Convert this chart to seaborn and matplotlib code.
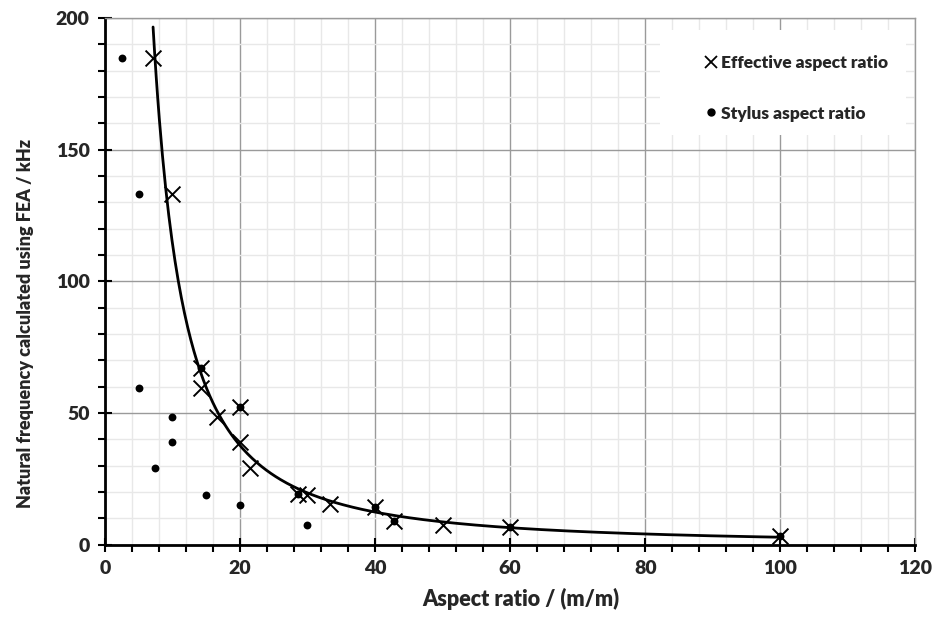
import numpy as np
import pandas as pd
import matplotlib
matplotlib.use("Agg")
import matplotlib.pyplot as plt
from matplotlib.ticker import MultipleLocator
from matplotlib.lines import Line2D
from matplotlib.patches import Rectangle
import seaborn as sns

# Effective aspect ratio vs natural frequency (FEA)
effective_ratio = [7.14, 10.0, 14.29, 14.29, 16.67, 20.0, 20.0, 21.43,
                   28.57, 30.0, 33.33, 40.0, 42.86, 50.0, 60.0, 100.0]
effective_freq = [185.0, 133.3, 67.0, 59.6, 48.7, 52.3, 38.9, 29.2,
                  19.2, 19.0, 15.3, 14.5, 9.1, 7.4, 6.7, 3.4]

# Stylus aspect ratio vs natural frequency (FEA)
stylus_ratio = [2.5, 5.0, 5.0, 10.0, 10.0, 7.5, 15.0, 20.0, 30.0,
                14.29, 20.0, 28.57, 40.0, 42.86, 60.0, 100.0]
stylus_freq = [185.0, 133.3, 59.7, 48.5, 38.9, 29.2, 18.8, 15.2, 7.4,
               67.0, 52.3, 19.2, 14.5, 9.1, 6.7, 3.4]

x_ticks = [0, 20, 40, 60, 80, 100, 120]
y_ticks = [0, 50, 100, 150, 200]

sns.set_style("white")
plt.rcParams["font.family"] = ["Lato", "DejaVu Sans"]
WEIGHT = "heavy"

fig = plt.figure(figsize=(9.36, 6.24), dpi=100)
ax = fig.add_axes([0.112, 0.127, 0.866, 0.844])

eff = pd.DataFrame({"ratio": effective_ratio, "freq": effective_freq})
sty = pd.DataFrame({"ratio": stylus_ratio, "freq": stylus_freq})

# Power-law trendline through the effective aspect ratio points
b, log_a = np.polyfit(np.log(eff["ratio"]), np.log(eff["freq"]), 1)
xs = np.linspace(eff["ratio"].min(), eff["ratio"].max(), 400)
fit = pd.DataFrame({"ratio": xs, "freq": np.exp(log_a) * xs ** b})

sns.lineplot(data=fit, x="ratio", y="freq", ax=ax, color="black",
             linewidth=2.0, zorder=4)
sns.scatterplot(data=sty, x="ratio", y="freq", ax=ax, marker="o",
                color="black", s=32, edgecolor="black", linewidth=0, zorder=5)
sns.scatterplot(data=eff, x="ratio", y="freq", ax=ax, marker="x",
                color="black", s=130, linewidth=1.4, zorder=6)

ax.set_xlim(0, 120)
ax.set_ylim(0, 200)
ax.set_xticks(x_ticks)
ax.set_yticks(y_ticks)
ax.xaxis.set_minor_locator(MultipleLocator(4))
ax.yaxis.set_minor_locator(MultipleLocator(10))

ax.grid(which="major", color="#9a9a9a", linewidth=1.0, zorder=0)
ax.grid(which="minor", color="#e8e8e8", linewidth=1.0, zorder=0)
ax.set_axisbelow(True)

for side in ("top", "right"):
    ax.spines[side].set_color("#9a9a9a")
    ax.spines[side].set_linewidth(1.0)
for side in ("left", "bottom"):
    ax.spines[side].set_color("black")
    ax.spines[side].set_linewidth(2.0)

ax.tick_params(which="major", direction="inout", length=10, width=1.5,
               color="black", labelsize=14, pad=6, left=True, bottom=True)
ax.tick_params(which="minor", direction="out", length=5, width=1.5,
               color="black", left=True, bottom=True)
for lbl in ax.get_xticklabels() + ax.get_yticklabels():
    lbl.set_fontweight(WEIGHT)

ax.set_xlabel("Aspect ratio / (m/m)", fontsize=15.5, fontweight=WEIGHT)
ax.xaxis.set_label_coords(0.513, -0.082)
ax.set_ylabel("Natural frequency calculated using FEA / kHz", fontsize=13,
              fontweight=WEIGHT)
ax.yaxis.set_label_coords(-0.088, 0.42)

# White legend panel in the upper right corner
ax.add_patch(Rectangle((0.685, 0.778), 0.303, 0.199, transform=ax.transAxes,
                       facecolor="white", edgecolor="none", zorder=3))
handles = [
    Line2D([], [], marker="x", linestyle="none", color="black",
           markersize=9, markeredgewidth=1.3, label="Effective aspect ratio"),
    Line2D([], [], marker="o", linestyle="none", color="black",
           markersize=5, label="Stylus aspect ratio"),
]
leg = ax.legend(handles=handles, loc="upper left",
                bbox_to_anchor=(0.722, 0.96), frameon=False,
                handlelength=0.6, handletextpad=0.3, labelspacing=2.0,
                prop={"weight": WEIGHT, "size": 12.5})
leg.set_zorder(7)

fig.savefig("out.png", dpi=100)
